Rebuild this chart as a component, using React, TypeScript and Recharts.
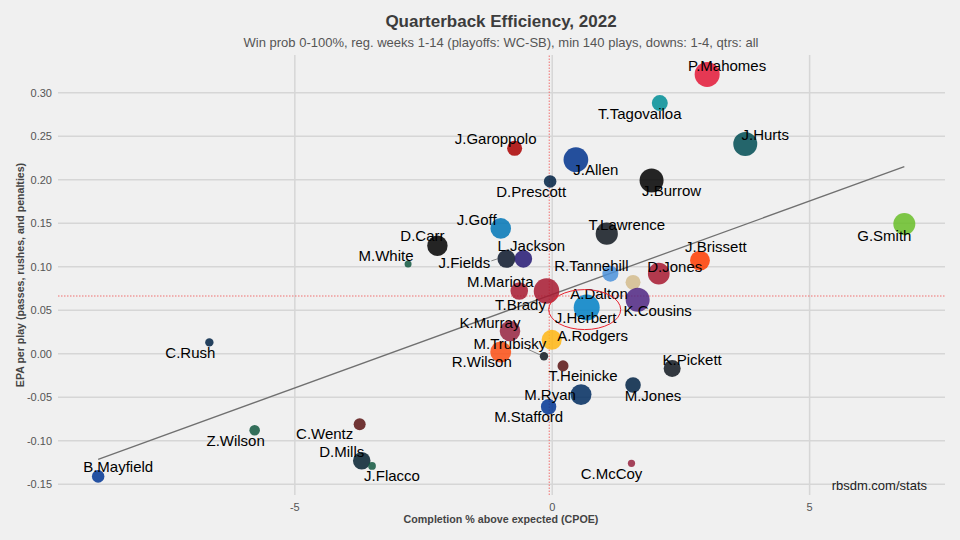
import React from 'react';
import { ScatterChart, Scatter, XAxis, YAxis, ZAxis, CartesianGrid, ReferenceLine } from 'recharts';

const players = ['P.Mahomes','T.Tagovailoa','J.Hurts','J.Garoppolo','J.Allen','D.Prescott','J.Burrow','G.Smith','T.Lawrence','J.Goff','D.Carr','M.White','J.Fields','L.Jackson','R.Tannehill','D.Jones','J.Brissett','A.Dalton','M.Mariota','T.Brady','J.Herbert','K.Cousins','K.Murray','A.Rodgers','R.Wilson','M.Trubisky','T.Heinicke','K.Pickett','M.Jones','M.Ryan','M.Stafford','C.McCoy','C.Rush','Z.Wilson','C.Wentz','D.Mills','J.Flacco','B.Mayfield'];
const cpoe = [3.01,2.09,3.75,-0.73,0.46,-0.04,1.93,6.84,1.06,-1.0,-2.23,-2.8,-0.89,-0.56,1.13,2.07,2.87,1.57,-0.64,-0.11,0.67,1.66,-0.82,-0.01,-1.0,-0.16,0.21,2.33,1.57,0.56,-0.07,1.54,-6.66,-5.78,-3.74,-3.7,-3.5,-8.82];
const epa = [0.321,0.288,0.241,0.236,0.223,0.198,0.199,0.149,0.138,0.144,0.124,0.103,0.109,0.109,0.092,0.092,0.107,0.082,0.072,0.072,0.053,0.062,0.026,0.016,0.002,-0.003,-0.014,-0.017,-0.036,-0.047,-0.061,-0.126,0.013,-0.088,-0.081,-0.123,-0.129,-0.141];
const plays = [673,331,627,303,660,241,627,542,550,487,480,140,394,380,331,530,460,300,380,700,720,627,487,470,500,160,207,362,320,500,315,143,160,198,228,380,150,240];
const teamColors = ['#E31837','#008E97','#004C54','#AA0000','#00338D','#002244','#000000','#69BE28','#101820','#0076B6','#000000','#125740','#0B162A','#241773','#4B92DB','#A71930','#FF3C00','#D3BC8D','#A71930','#A71930','#0080C6','#4F2683','#97233F','#FFB612','#FB4F14','#101820','#5A1414','#101820','#002244','#002C5F','#003594','#97233F','#002244','#125740','#5A1414','#03202F','#125740','#003594'];

const xTicks = [-5, 0, 5];
const yTicks = [-0.15, -0.1, -0.05, 0, 0.05, 0.1, 0.15, 0.2, 0.25, 0.3];
const xDomain = [-9.6, 7.63];
const yDomain = [-0.1624, 0.3433];
const fitX = [-8.82, 6.84];
const fitY = [-0.1214, 0.215];
const meanEpa = 0.0663;
const meanCpoe = -0.058;
const highlighted = ['J.Herbert'];

// label placement (layout only): offset of text centre from the point, in px
const labelOffset: Record<string, [number, number]> = {
  'P.Mahomes': [20, -9], 'T.Tagovailoa': [-20, 10], 'J.Hurts': [20, -10], 'J.Garoppolo': [-19, -10],
  'J.Allen': [20, 10], 'D.Prescott': [-19, 10], 'J.Burrow': [20, 10], 'G.Smith': [-20, 11],
  'T.Lawrence': [20, -9], 'J.Goff': [-24, -9], 'D.Carr': [-15, -10], 'M.White': [-22, -9],
  'J.Fields': [-42, 4], 'L.Jackson': [8, -13], 'R.Tannehill': [-19, -8], 'D.Jones': [16, -7],
  'J.Brissett': [16, -14], 'A.Dalton': [-34, 11], 'M.Mariota': [-19, -10], 'T.Brady': [-26, 13],
  'J.Herbert': [-1, 10], 'K.Cousins': [20, 11], 'K.Murray': [-20, -9], 'A.Rodgers': [41, -4],
  'R.Wilson': [-19, 10], 'M.Trubisky': [-34, -13], 'T.Heinicke': [20, 10], 'K.Pickett': [20, -9],
  'M.Jones': [20, 10], 'M.Ryan': [-31, 0], 'M.Stafford': [-20, 10], 'C.McCoy': [-20, 10],
  'C.Rush': [-19, 10], 'Z.Wilson': [-19, 10], 'C.Wentz': [-35, 9], 'D.Mills': [-20, -9],
  'J.Flacco': [20, 10], 'B.Mayfield': [20, -10],
};
const leaders: Record<string, [number, number, number, number]> = {
  'J.Fields': [-15, 2, -9, 0],
  'M.Trubisky': [-16, -7, -4, -1.5],
};

const data = players.map((name, i) => ({ name, x: cpoe[i], y: epa[i], z: plays[i], color: teamColors[i] }));

const FONT = '"Liberation Sans", Arial, sans-serif';

const PointShape = (props: any) => {
  const { cx, cy, width, payload } = props;
  const r = (width || 8) / 2;
  return <circle cx={cx} cy={cy} r={r} fill={payload.color} fillOpacity={0.85} />;
};

const LabelShape = (props: any) => {
  const { cx, cy, payload } = props;
  const off = labelOffset[payload.name] || [0, 0];
  const ld = leaders[payload.name];
  return (
    <g>
      {highlighted.includes(payload.name) && (
        <ellipse cx={cx - 2} cy={cy + 2} rx={36} ry={20} fill="none" stroke="#e8232f" strokeWidth={1} />
      )}
      {ld && <line x1={cx + ld[0]} y1={cy + ld[1]} x2={cx + ld[2]} y2={cy + ld[3]} stroke="#555" strokeWidth={0.7} />}
      <text x={cx + off[0]} y={cy + off[1]} textAnchor="middle" dominantBaseline="central"
        fontFamily={FONT} fontSize={15} fill="#000">{payload.name}</text>
    </g>
  );
};

const hGen = (p: any) => {
  const s = p?.yAxis?.scale;
  if (s && typeof s === 'function') return yTicks.map((t) => s(t));
  if (s && typeof s.map === 'function') return yTicks.map((t) => s.map(t));
  const o = p.offset;
  return yTicks.map((t) => o.top + o.height * (1 - (t - yDomain[0]) / (yDomain[1] - yDomain[0])));
};
const vGen = (p: any) => {
  const s = p?.xAxis?.scale;
  if (s && typeof s === 'function') return xTicks.map((t) => s(t));
  if (s && typeof s.map === 'function') return xTicks.map((t) => s.map(t));
  const o = p.offset;
  return xTicks.map((t) => o.left + o.width * ((t - xDomain[0]) / (xDomain[1] - xDomain[0])));
};

export default function App() {
  return (
    <div style={{ position: 'fixed', left: 0, top: 0, width: 960, height: 540, background: '#f0f0f0', fontFamily: FONT }}>
      <ScatterChart width={960} height={540} margin={{ top: 55, right: 15, bottom: 15, left: 8 }}>
        <CartesianGrid stroke="#d6d6d6" strokeWidth={1.5}
          horizontalCoordinatesGenerator={hGen} verticalCoordinatesGenerator={vGen} />
        <XAxis type="number" dataKey="x" domain={xDomain} ticks={xTicks} allowDataOverflow
          axisLine={false} tickLine={false} tickSize={0} tickMargin={8} height={30}
          tick={{ fontSize: 11, fill: '#555', fontFamily: FONT }} />
        <YAxis type="number" dataKey="y" domain={yDomain} ticks={yTicks} allowDataOverflow
          axisLine={false} tickLine={false} tickSize={0} tickMargin={6} width={50}
          tickFormatter={(v: number) => v.toFixed(2)}
          tick={{ fontSize: 11, fill: '#555', fontFamily: FONT }} />
        <ZAxis type="number" dataKey="z" domain={[140, 720]} range={[38.5, 531]} />
        <ReferenceLine y={meanEpa} stroke="#f07070" strokeDasharray="1.5 1.5" strokeWidth={1} />
        <ReferenceLine x={meanCpoe} stroke="#f07070" strokeDasharray="1.5 1.5" strokeWidth={1} />
        <Scatter data={data} shape={PointShape} isAnimationActive={false} />
        <ReferenceLine segment={[{ x: fitX[0], y: fitY[0] }, { x: fitX[1], y: fitY[1] }]} stroke="#707070" strokeWidth={1.3} ifOverflow="visible" />
        <Scatter data={data} shape={LabelShape} isAnimationActive={false} />
      </ScatterChart>
      <div style={{ position: 'absolute', left: 501, top: 21.5, transform: 'translate(-50%,-50%)', whiteSpace: 'nowrap', fontSize: 17, fontWeight: 'bold', color: '#3c3c3c' }}>Quarterback Efficiency, 2022</div>
      <div style={{ position: 'absolute', left: 501, top: 41.5, transform: 'translate(-50%,-50%)', whiteSpace: 'nowrap', fontSize: 13, color: '#555' }}>Win prob 0-100%, reg. weeks 1-14 (playoffs: WC-SB), min 140 plays, downs: 1-4, qtrs: all</div>
      <div style={{ position: 'absolute', left: 20, top: 275, transform: 'translate(-50%,-50%) rotate(-90deg)', whiteSpace: 'nowrap', fontSize: 10.6, fontWeight: 'bold', color: '#444' }}>EPA per play (passes, rushes, and penalties)</div>
      <div style={{ position: 'absolute', left: 501, top: 519, transform: 'translate(-50%,-50%)', whiteSpace: 'nowrap', fontSize: 10.7, fontWeight: 'bold', color: '#444' }}>Completion % above expected (CPOE)</div>
      <div style={{ position: 'absolute', right: 960 - 927, top: 484.5, transform: 'translateY(-50%)', whiteSpace: 'nowrap', fontSize: 13, color: '#222' }}>rbsdm.com/stats</div>
    </div>
  );
}
